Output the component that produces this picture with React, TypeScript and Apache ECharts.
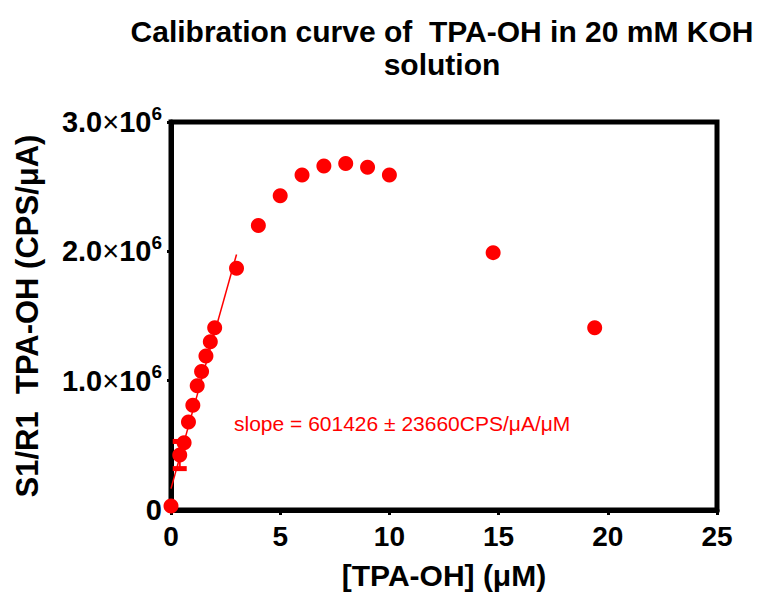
import React, { useEffect, useRef } from "react";
import * as echarts from "echarts";

// Measured data (x: [TPA-OH] in µM, y: S1/R1 in CPS/µA)
const concX = [0, 0.4, 0.6, 0.8, 1.0, 1.2, 1.4, 1.6, 1.8, 2.0, 3, 4, 5, 6, 7, 8, 9, 10, 14.75, 19.4];
const signalY = [
  30000, 425000, 520000, 680000, 810000, 960000, 1070000, 1190000, 1300000, 1410000,
  1870000, 2200000, 2430000, 2590000, 2660000, 2680000, 2650000, 2590000, 1990000, 1410000,
];

// Error bar (only visible one)
const errX = [0.4];
const errLow = [320000];
const errHigh = [530000];

// Linear fit endpoints
const fitX = [0, 3];
const fitY = [165000, 1975000];

const xTicks = [0, 5, 10, 15, 20, 25];
const yTicks = [0, 1000000, 2000000, 3000000];

const titleLines = ["Calibration curve of  TPA-OH in 20 mM KOH", "solution"];
const slopeText = "slope = 601426 ± 23660CPS/μA/μM";
const xName = "[TPA-OH] (μM)";
const yName = "S1/R1  TPA-OH (CPS/μA)";

const FONT = "'Liberation Sans', Arial, Helvetica, sans-serif";

export default function App() {
  const ref = useRef<HTMLDivElement>(null);

  useEffect(() => {
    if (!ref.current) return;
    const chart = echarts.init(ref.current, undefined, { renderer: "svg" });

    const option: any = {
      animation: false,
      backgroundColor: "#ffffff",
      textStyle: { fontFamily: FONT },
      grid: {
        left: 171,
        top: 122,
        width: 546,
        height: 390,
        show: true,
        borderColor: "#000",
        borderWidth: 5,
        containLabel: false,
      },
      graphic: [
        {
          type: "text",
          x: 442,
          y: 31,
          style: {
            text: titleLines[0],
            fill: "#000",
            font: `bold 30px ${FONT}`,
            align: "center",
            verticalAlign: "middle",
          },
        },
        {
          type: "text",
          x: 442,
          y: 64,
          style: {
            text: titleLines[1],
            fill: "#000",
            font: `bold 30px ${FONT}`,
            align: "center",
            verticalAlign: "middle",
          },
        },
        {
          type: "text",
          x: 234,
          y: 423,
          style: {
            text: slopeText,
            fill: "#ff0000",
            font: `21px ${FONT}`,
            align: "left",
            verticalAlign: "middle",
          },
        },
      ],
      xAxis: {
        type: "value",
        min: xTicks[0],
        max: xTicks[xTicks.length - 1],
        interval: 5,
        name: xName,
        nameLocation: "middle",
        nameGap: 50,
        nameTextStyle: { fontSize: 30, fontWeight: "bold", color: "#000", fontFamily: FONT },
        axisLine: { show: true, onZero: false, lineStyle: { color: "#000", width: 5 } },
        axisTick: { show: true, length: 5, lineStyle: { color: "#000", width: 3 } },
        axisLabel: {
          margin: 12,
          fontSize: 28,
          fontWeight: "bold",
          color: "#000",
          fontFamily: FONT,
          lineHeight: 28,
        },
        splitLine: { show: false },
      },
      yAxis: {
        type: "value",
        min: yTicks[0],
        max: yTicks[yTicks.length - 1],
        interval: 1000000,
        name: yName,
        nameLocation: "middle",
        nameGap: 128,
        nameRotate: 90,
        nameTextStyle: { fontSize: 31, fontWeight: "bold", color: "#000", fontFamily: FONT },
        axisLine: { show: true, onZero: false, lineStyle: { color: "#000", width: 5 } },
        axisTick: { show: true, length: 4, lineStyle: { color: "#000", width: 3 } },
        axisLabel: {
          margin: 9,
          color: "#000",
          fontFamily: FONT,
          formatter: (v: number) => {
            if (v === 0) return "{b|0}";
            return `{b|${(v / 1e6).toFixed(1)}}{x|×}{b|10}{s|6}`;
          },
          rich: {
            b: { fontSize: 29, fontWeight: "bold", color: "#000", lineHeight: 36, fontFamily: FONT },
            x: { fontSize: 29, fontWeight: "normal", color: "#000", lineHeight: 36, fontFamily: FONT },
            s: {
              fontSize: 19,
              fontWeight: "bold",
              color: "#000",
              lineHeight: 18,
              padding: [0, 0, 18, 0],
              fontFamily: FONT,
            },
          },
        },
        splitLine: { show: false },
      },
      series: [
        {
          type: "custom",
          z: 1,
          renderItem: (params: any, api: any) => {
            const x = api.value(0);
            const lo = api.coord([x, api.value(1)]);
            const hi = api.coord([x, api.value(2)]);
            const hw = 7;
            return {
              type: "group",
              children: [
                { type: "line", shape: { x1: lo[0], y1: lo[1], x2: hi[0], y2: hi[1] }, style: { stroke: "#ff0000", lineWidth: 2 } },
                { type: "line", shape: { x1: lo[0] - hw, y1: lo[1], x2: lo[0] + hw, y2: lo[1] }, style: { stroke: "#ff0000", lineWidth: 5 } },
                { type: "line", shape: { x1: hi[0] - hw, y1: hi[1], x2: hi[0] + hw, y2: hi[1] }, style: { stroke: "#ff0000", lineWidth: 5 } },
              ],
            };
          },
          data: errX.map((x, i) => [x, errLow[i], errHigh[i]]),
        },
        {
          type: "line",
          z: 2,
          data: fitX.map((x, i) => [x, fitY[i]]),
          showSymbol: false,
          symbol: "none",
          lineStyle: { color: "#ff0000", width: 1.5 },
        },
        {
          type: "scatter",
          z: 3,
          data: concX.map((x, i) => [x, signalY[i]]),
          symbol: "circle",
          symbolSize: 15,
          itemStyle: { color: "#ff0000", opacity: 1 },
        },
      ],
    };

    chart.setOption(option);
    return () => chart.dispose();
  }, []);

  return (
    <div
      ref={ref}
      style={{ position: "absolute", left: 0, top: 0, width: 762, height: 595 }}
    />
  );
}
